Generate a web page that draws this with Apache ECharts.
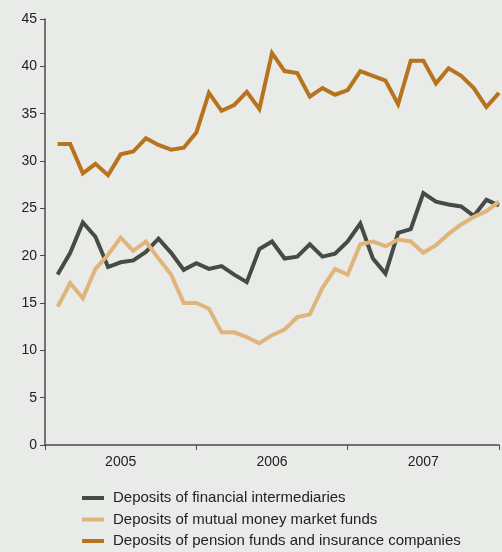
<!DOCTYPE html>
<html>
<head>
<meta charset="utf-8">
<script src="https://cdn.jsdelivr.net/npm/echarts@6/dist/echarts.min.js"></script>
<style>
  html, body { margin: 0; padding: 0; background: #e9ebe8; }
  #chart { width: 502px; height: 552px; }
</style>
</head>
<body>
<div id="chart"></div>
<script>
// Monthly observations, January 2005 – December 2007 (end of month)
const months = [
  '2005-01','2005-02','2005-03','2005-04','2005-05','2005-06','2005-07','2005-08','2005-09','2005-10','2005-11','2005-12',
  '2006-01','2006-02','2006-03','2006-04','2006-05','2006-06','2006-07','2006-08','2006-09','2006-10','2006-11','2006-12',
  '2007-01','2007-02','2007-03','2007-04','2007-05','2007-06','2007-07','2007-08','2007-09','2007-10','2007-11','2007-12'
];
const yearLabels = ['2005', '2006', '2007'];

const financialIntermediaries = [
  18.0, 20.3, 23.5, 22.0, 18.8, 19.3, 19.5, 20.4, 21.8, 20.3, 18.5, 19.2,
  18.6, 18.9, 18.0, 17.2, 20.7, 21.5, 19.7, 19.9, 21.2, 19.9, 20.2, 21.5,
  23.4, 19.7, 18.1, 22.4, 22.8, 26.6, 25.7, 25.4, 25.2, 24.2, 25.9, 25.3
];
const moneyMarketFunds = [
  14.6, 17.1, 15.5, 18.6, 20.1, 21.9, 20.5, 21.5, 19.7, 18.0, 15.0, 15.0,
  14.4, 11.9, 11.9, 11.4, 10.75, 11.6, 12.2, 13.5, 13.8, 16.6, 18.6, 18.0,
  21.2, 21.5, 21.0, 21.7, 21.5, 20.3, 21.1, 22.3, 23.3, 24.1, 24.7, 25.7
];
const pensionInsurance = [
  31.8, 31.8, 28.7, 29.7, 28.5, 30.7, 31.0, 32.4, 31.7, 31.2, 31.4, 33.0,
  37.2, 35.3, 35.9, 37.3, 35.5, 41.4, 39.5, 39.3, 36.8, 37.7, 37.0, 37.5,
  39.5, 39.0, 38.5, 36.0, 40.6, 40.6, 38.2, 39.8, 39.0, 37.7, 35.7, 37.2
];

const seriesNames = [
  'Deposits of financial intermediaries',
  'Deposits of mutual money market funds',
  'Deposits of pension funds and insurance companies'
];
const colors = ['#464b46', '#dfb57c', '#b8731e'];

// month-end position on a continuous month scale (0 = start of 2005)
const toPoints = arr => arr.map((v, i) => [i + 1, v]);

const textColor = '#222';
const axisColor = '#4a4a4a';
const font = 'Liberation Sans, Arial, sans-serif';

const chart = echarts.init(document.getElementById('chart'), null, { renderer: 'canvas' });
chart.setOption({
  backgroundColor: '#e9ebe8',
  animation: false,
  grid: { left: 45, right: 0, top: 19, bottom: 107, containLabel: false },
  xAxis: [
    {
      // year boundaries
      type: 'value', min: 0, max: months.length, interval: 12,
      axisLine: { show: true, lineStyle: { color: axisColor, width: 1.5 } },
      axisTick: { show: true, length: 5, lineStyle: { color: axisColor, width: 1 } },
      axisLabel: { show: false },
      splitLine: { show: false }
    },
    {
      // year captions centred in each year
      type: 'value', min: 0, max: months.length, interval: 6, position: 'bottom',
      axisLine: { show: false }, axisTick: { show: false }, splitLine: { show: false },
      axisLabel: {
        show: true, margin: 10, color: textColor, fontSize: 14, fontFamily: font,
        formatter: v => (v % 12 === 6 ? yearLabels[(v - 6) / 12] : '')
      }
    }
  ],
  yAxis: {
    type: 'value', min: 0, max: 45, interval: 5,
    axisLine: { show: true, lineStyle: { color: axisColor, width: 1.5 } },
    axisTick: { show: true, length: 5, lineStyle: { color: axisColor, width: 1 } },
    axisLabel: { color: textColor, fontSize: 14, fontFamily: font, margin: 8 },
    splitLine: { show: false }
  },
  legend: {
    orient: 'vertical', left: 82, top: 490.5, height: 70, padding: 0,
    itemWidth: 22, itemHeight: 4, itemGap: 6.5, icon: 'rect',
    textStyle: { color: textColor, fontSize: 15, fontFamily: font, padding: [0, 0, 0, 4] },
    data: seriesNames
  },
  series: [financialIntermediaries, moneyMarketFunds, pensionInsurance].map((arr, i) => ({
    name: seriesNames[i],
    type: 'line',
    xAxisIndex: 0,
    data: toPoints(arr),
    showSymbol: false,
    symbol: 'none',
    color: colors[i],
    lineStyle: { color: colors[i], width: 4, join: 'miter' }
  }))
});
</script>
</body>
</html>
